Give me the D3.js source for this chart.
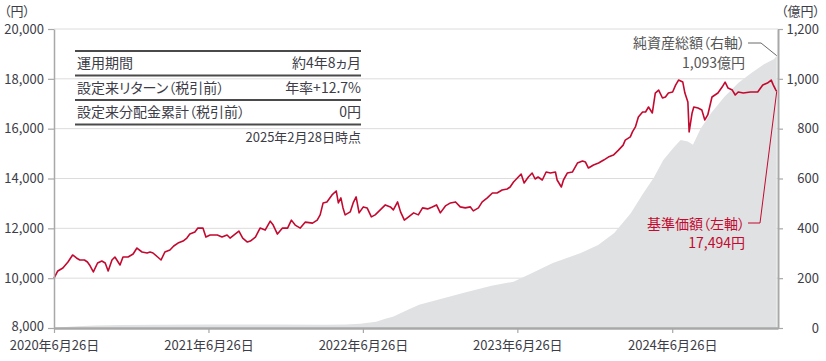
<!DOCTYPE html>
<html>
<head>
<meta charset="utf-8">
<script src="https://cdn.jsdelivr.net/npm/d3@7"></script>
<style>
  body { margin: 0; background: #fff; }
  svg text { font-family: "Noto Sans CJK JP", "Noto Sans", sans-serif; font-feature-settings: "palt"; }
</style>
</head>
<body>
<div class="chart"></div>
<script>
// Data
//= ================================
var navDates = ["2020-06-26","2020-07-05","2020-07-17","2020-07-29","2020-08-09","2020-08-18","2020-08-26","2020-09-06","2020-09-13","2020-09-18","2020-09-27","2020-10-07","2020-10-17","2020-10-25","2020-11-01","2020-11-10","2020-11-17","2020-11-29","2020-12-06","2020-12-18","2020-12-30","2021-01-08","2021-01-20","2021-02-01","2021-02-08","2021-02-15","2021-02-26","2021-03-06","2021-03-15","2021-03-27","2021-04-05","2021-04-15","2021-04-27","2021-05-06","2021-05-13","2021-05-25","2021-06-01","2021-06-13","2021-06-20","2021-06-30","2021-07-17","2021-07-28","2021-08-09","2021-08-16","2021-08-28","2021-09-06","2021-09-15","2021-09-26","2021-10-03","2021-10-15","2021-10-26","2021-11-07","2021-11-19","2021-11-26","2021-12-06","2021-12-18","2021-12-30","2022-01-08","2022-01-17","2022-01-29","2022-02-10","2022-02-27","2022-03-10","2022-03-17","2022-03-24","2022-04-02","2022-04-14","2022-04-24","2022-04-29","2022-05-05","2022-05-10","2022-05-15","2022-05-27","2022-06-03","2022-06-10","2022-06-17","2022-06-27","2022-07-06","2022-07-16","2022-07-25","2022-08-06","2022-08-18","2022-08-30","2022-09-06","2022-09-16","2022-09-23","2022-10-02","2022-10-12","2022-10-24","2022-11-04","2022-11-14","2022-11-26","2022-12-07","2022-12-17","2022-12-26","2023-01-07","2023-01-19","2023-01-31","2023-02-11","2023-02-23","2023-03-07","2023-03-14","2023-03-26","2023-04-04","2023-04-16","2023-04-28","2023-05-09","2023-05-21","2023-06-02","2023-06-09","2023-06-17","2023-06-26","2023-07-05","2023-07-12","2023-07-22","2023-07-31","2023-08-07","2023-08-14","2023-08-24","2023-09-02","2023-09-12","2023-09-24","2023-09-28","2023-10-08","2023-10-13","2023-10-22","2023-11-03","2023-11-15","2023-11-27","2023-12-04","2023-12-11","2023-12-23","2024-01-04","2024-01-16","2024-01-27","2024-02-08","2024-02-20","2024-03-02","2024-03-07","2024-03-19","2024-03-24","2024-03-31","2024-04-07","2024-04-17","2024-04-24","2024-05-01","2024-05-10","2024-05-17","2024-05-25","2024-06-03","2024-06-10","2024-06-17","2024-06-27","2024-07-04","2024-07-11","2024-07-21","2024-07-26","2024-08-02","2024-08-05","2024-08-12","2024-08-16","2024-08-26","2024-09-04","2024-09-11","2024-09-18","2024-09-28","2024-10-05","2024-10-12","2024-10-22","2024-10-29","2024-11-05","2024-11-15","2024-11-22","2024-11-29","2024-12-11","2024-12-28","2025-01-14","2025-01-26","2025-02-06","2025-02-15","2025-02-20","2025-02-26","2025-02-28"];
var navValues = [10000,10290,10410,10650,10930,10810,10730,10730,10650,10530,10250,10610,10690,10610,10290,10730,10850,10530,10850,10850,10970,11210,11050,11010,11050,11010,10850,10730,11050,11130,11290,11410,11490,11610,11770,11850,12010,12010,11650,11730,11730,11650,11730,11610,11770,11890,11610,11450,11490,11650,12010,11930,12290,12130,11770,12010,12010,12330,12130,12010,12250,12210,12330,12540,13020,13060,13340,13500,13020,13220,12820,12540,12660,13020,13260,12620,12860,12820,12460,12540,12740,12940,12860,12740,13060,12660,12330,12460,12620,12540,12820,12780,12860,12940,12620,12900,13020,13060,12860,12820,12860,12700,12820,13060,13220,13420,13420,13540,13580,13660,13860,14020,14180,13820,14060,14220,13980,14060,13940,14260,14220,14260,13940,13660,13940,14220,14260,14620,14700,14660,14420,14540,14620,14740,14860,14940,15140,15340,15540,15670,15870,16070,16470,16670,16670,16870,16630,17430,17550,17230,17270,17430,17470,17750,17950,17870,17430,17070,15870,16630,16870,16830,16750,16350,16550,17270,17350,17430,17670,17870,17630,17550,17350,17470,17430,17470,17470,17750,17830,17950,17750,17550,17494];

var aumDates = ["2020-06-26","2020-07-15","2020-08-20","2020-10-01","2020-12-01","2021-03-01","2021-06-26","2021-12-01","2022-04-01","2022-05-15","2022-06-20","2022-07-27","2022-08-20","2022-09-05","2022-10-13","2022-11-06","2023-02-20","2023-04-26","2023-06-17","2023-07-26","2023-09-18","2023-11-23","2024-01-03","2024-02-10","2024-03-20","2024-04-19","2024-05-13","2024-06-05","2024-06-30","2024-07-16","2024-08-02","2024-08-14","2024-09-01","2024-09-26","2024-10-27","2024-11-29","2024-12-30","2025-01-30","2025-02-22","2025-02-28"];
var aumValues = [0,3,7,10,12,13,14,14,13,14,17,25,38,45,75,93,141,170,186,217,261,301,333,381,461,542,602,674,725,755,748,735,800,863,927,983,1023,1060,1080,1093];

var leftTicks = [8000, 10000, 12000, 14000, 16000, 18000, 20000];
var rightTicks = [0, 200, 400, 600, 800, 1000, 1200];
var xTicks = ["2020-06-26", "2021-06-26", "2022-06-26", "2023-06-26", "2024-06-26"];

var tableLabels = ["運用期間", "設定来リターン（税引前）", "設定来分配金累計（税引前）"];
var tableValues = ["約4年8ヵ月", "年率+12.7%", "0円"];
var tableNote = "2025年2月28日時点";

// Step 0: Set up our chart
//= ================================
var svgWidth = 826;
var svgHeight = 361;
var margin = { top: 29, right: 48, bottom: 33, left: 54 };
var width = svgWidth - margin.left - margin.right;
var height = svgHeight - margin.top - margin.bottom;

var red = "#c3092f";
var textColor = "#3d3d48";

var svg = d3.select(".chart").append("svg")
  .attr("width", svgWidth)
  .attr("height", svgHeight);

var chart = svg.append("g")
  .attr("transform", "translate(" + margin.left + "," + margin.top + ")");

var parseDate = d3.timeParse("%Y-%m-%d");

var nav = navDates.map(function(d, i) { return { date: parseDate(d), value: navValues[i] }; });
var aum = aumDates.map(function(d, i) { return { date: parseDate(d), value: aumValues[i] }; });

// Scales
var xTimeScale = d3.scaleTime()
  .domain([parseDate("2020-06-26"), parseDate("2025-03-03")])
  .range([0, width]);
var yLeftScale = d3.scaleLinear().domain([8000, 20000]).range([height, 0]);
var yRightScale = d3.scaleLinear().domain([0, 1200]).range([height, 0]);

// Gridlines
chart.append("g")
  .selectAll("line")
  .data(leftTicks.slice(1))
  .enter()
  .append("line")
  .attr("x1", 0)
  .attr("x2", width)
  .attr("y1", function(d) { return yLeftScale(d); })
  .attr("y2", function(d) { return yLeftScale(d); })
  .attr("stroke", "#dcdcdc")
  .attr("stroke-width", 1);

// Net assets area (right axis)
var area = d3.area()
  .x(function(d) { return xTimeScale(d.date); })
  .y0(height)
  .y1(function(d) { return yRightScale(d.value); });

chart.append("path")
  .datum(aum)
  .attr("d", area)
  .attr("fill", "#e0e1e3");

// NAV line (left axis)
var line = d3.line()
  .x(function(d) { return xTimeScale(d.date); })
  .y(function(d) { return yLeftScale(d.value); });

chart.append("path")
  .datum(nav)
  .attr("d", line)
  .attr("fill", "none")
  .attr("stroke", red)
  .attr("stroke-width", 1.6)
  .attr("stroke-linejoin", "round");

// Axes
var leftAxis = d3.axisLeft(yLeftScale)
  .tickValues(leftTicks)
  .tickFormat(d3.format(","))
  .tickSizeInner(6)
  .tickSizeOuter(0)
  .tickPadding(4);
var rightAxis = d3.axisRight(yRightScale)
  .tickValues(rightTicks)
  .tickFormat(d3.format(","))
  .tickSizeInner(5)
  .tickSizeOuter(0)
  .tickPadding(36);
var bottomAxis = d3.axisBottom(xTimeScale)
  .tickValues(xTicks.map(parseDate))
  .tickFormat(d3.timeFormat("%Y年%-m月%-d日"))
  .tickSizeInner(5)
  .tickSizeOuter(0)
  .tickPadding(8);

function styleAxis(g, lineWidth) {
  g.select(".domain").attr("stroke", "#a8a8a8").attr("stroke-width", lineWidth);
  g.selectAll(".tick line").attr("stroke", "#a8a8a8").attr("stroke-width", 1.2);
  g.selectAll(".tick text")
    .attr("fill", textColor)
    .style("font-size", "13px");
}

var leftG = chart.append("g").call(leftAxis).call(styleAxis, 1.5);
// lift the bottom label a little so it clears the date below
leftG.selectAll(".tick text").filter(function(d) { return d === 8000; }).attr("dy", "0.2em");

var rightG = chart.append("g")
  .attr("transform", "translate(" + width + ",0)")
  .call(rightAxis)
  .call(styleAxis, 2);
rightG.selectAll(".tick text").attr("text-anchor", "end");

chart.append("g")
  .attr("transform", "translate(0," + height + ")")
  .call(bottomAxis)
  .call(styleAxis, 2.5);

// Unit labels
svg.append("text")
  .attr("x", 4).attr("y", 16)
  .attr("fill", textColor)
  .style("font-size", "13px")
  .text("（円）");
svg.append("text")
  .attr("x", 820).attr("y", 16)
  .attr("text-anchor", "end")
  .attr("fill", textColor)
  .style("font-size", "13px")
  .text("（億円）");

// Summary table
var tableLeft = 75, tableRight = 361;
var rowTops = [51, 75.5, 100, 124.5];
var table = svg.append("g");
rowTops.forEach(function(y) {
  table.append("line")
    .attr("x1", tableLeft).attr("x2", tableRight)
    .attr("y1", y).attr("y2", y)
    .attr("stroke", "#4a4a4a")
    .attr("stroke-width", 2);
});
tableLabels.forEach(function(label, i) {
  var cy = (rowTops[i] + rowTops[i + 1]) / 2;
  table.append("text")
    .attr("x", tableLeft + 2).attr("y", cy)
    .attr("dy", "0.36em")
    .attr("fill", textColor)
    .style("font-size", "14px")
    .text(label);
  table.append("text")
    .attr("x", tableRight).attr("y", cy)
    .attr("dy", "0.36em")
    .attr("text-anchor", "end")
    .attr("fill", textColor)
    .style("font-size", "14px")
    .text(tableValues[i]);
});
table.append("text")
  .attr("x", tableRight).attr("y", 137)
  .attr("dy", "0.36em")
  .attr("text-anchor", "end")
  .attr("fill", textColor)
  .style("font-size", "13px")
  .text(tableNote);

// Annotations
var lastAum = aum[aum.length - 1];
var lastNav = nav[nav.length - 1];

var aumX = margin.left + xTimeScale(lastAum.date);
var aumY = margin.top + yRightScale(lastAum.value);
svg.append("polyline")
  .attr("points", [[748, 43], [761, 43], [aumX, aumY]].join(" "))
  .attr("fill", "none")
  .attr("stroke", "#6a6a6a")
  .attr("stroke-width", 1);
svg.append("text")
  .attr("x", 745).attr("y", 43).attr("dy", "0.36em")
  .attr("text-anchor", "end")
  .attr("fill", "#555")
  .style("font-size", "14px")
  .text("純資産総額（右軸）");
svg.append("text")
  .attr("x", 745).attr("y", 63).attr("dy", "0.36em")
  .attr("text-anchor", "end")
  .attr("fill", "#555")
  .style("font-size", "14px")
  .text(d3.format(",")(lastAum.value) + "億円");

var navX = margin.left + xTimeScale(lastNav.date);
var navY = margin.top + yLeftScale(lastNav.value);
svg.append("polyline")
  .attr("points", [[748, 223], [760, 223], [navX, navY]].join(" "))
  .attr("fill", "none")
  .attr("stroke", red)
  .attr("stroke-width", 1);
svg.append("text")
  .attr("x", 745).attr("y", 224).attr("dy", "0.36em")
  .attr("text-anchor", "end")
  .attr("fill", red)
  .style("font-size", "14px")
  .text("基準価額（左軸）");
svg.append("text")
  .attr("x", 745).attr("y", 243).attr("dy", "0.36em")
  .attr("text-anchor", "end")
  .attr("fill", red)
  .style("font-size", "14px")
  .text(d3.format(",")(lastNav.value) + "円");
</script>
</body>
</html>
